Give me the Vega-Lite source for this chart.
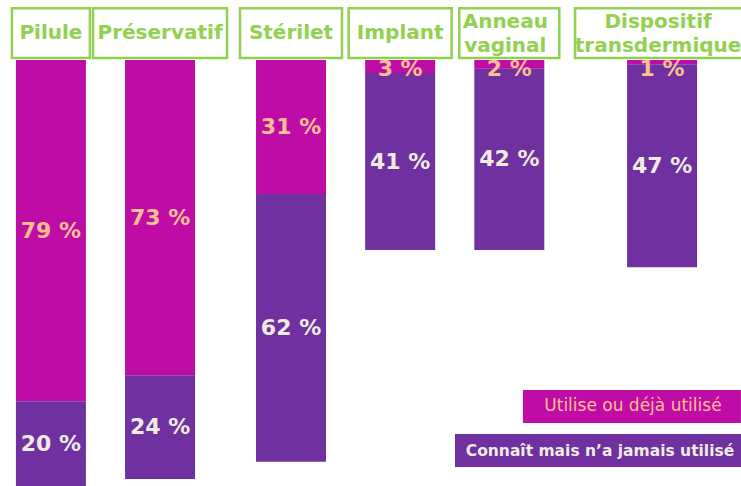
{
  "$schema": "https://vega.github.io/schema/vega-lite/v6.json",
  "width": 633,
  "height": 486,
  "autosize": "none",
  "padding": {"left": 40, "right": 68, "top": 0, "bottom": 0},
  "background": "white",
  "config": {"view": {"stroke": null}, "font": "DejaVu Sans"},
  "datasets": {
    "vals": [
      {"methode": "Pilule", "statut": "Utilise ou déjà utilisé", "pct": 79},
      {"methode": "Pilule", "statut": "Connaît mais n’a jamais utilisé", "pct": 20},
      {"methode": "Préservatif", "statut": "Utilise ou déjà utilisé", "pct": 73},
      {"methode": "Préservatif", "statut": "Connaît mais n’a jamais utilisé", "pct": 24},
      {"methode": "Stérilet", "statut": "Utilise ou déjà utilisé", "pct": 31},
      {"methode": "Stérilet", "statut": "Connaît mais n’a jamais utilisé", "pct": 62},
      {"methode": "Implant", "statut": "Utilise ou déjà utilisé", "pct": 3},
      {"methode": "Implant", "statut": "Connaît mais n’a jamais utilisé", "pct": 41},
      {"methode": "Anneau vaginal", "statut": "Utilise ou déjà utilisé", "pct": 2},
      {"methode": "Anneau vaginal", "statut": "Connaît mais n’a jamais utilisé", "pct": 42},
      {"methode": "Dispositif transdermique", "statut": "Utilise ou déjà utilisé", "pct": 1},
      {"methode": "Dispositif transdermique", "statut": "Connaît mais n’a jamais utilisé", "pct": 47}
    ],
    "methodes": [
      {"methode": "Pilule"},
      {"methode": "Préservatif"},
      {"methode": "Stérilet"},
      {"methode": "Implant"},
      {"methode": "Anneau vaginal"},
      {"methode": "Dispositif transdermique"}
    ]
  },
  "encoding": {
    "x": {
      "field": "methode",
      "type": "nominal",
      "axis": null,
      "scale": {
        "domain": ["Pilule", "s1", "s2", "s3", "s4", "Préservatif", "s5", "s6", "s7", "s8", "s9", "Stérilet", "s10", "s11", "s12", "s13", "Implant", "s14", "s15", "s16", "s17", "Anneau vaginal", "s18", "s19", "s20", "s21", "s22", "s23", "Dispositif transdermique"],
        "paddingInner": 0,
        "paddingOuter": 0
      }
    }
  },
  "layer": [
    {
      "data": {"name": "vals"},
      "transform": [
        {"stack": "pct", "groupby": ["methode"], "sort": [{"field": "statut", "order": "descending"}], "as": ["y0", "y1"]}
      ],
      "mark": {"type": "bar", "width": 70},
      "encoding": {
        "y": {"field": "y0", "type": "quantitative", "axis": null, "scale": {"domain": [-13.889, 98.611], "reverse": true, "nice": false, "zero": false}},
        "y2": {"field": "y1"},
        "color": {
          "field": "statut",
          "type": "nominal",
          "legend": null,
          "scale": {"domain": ["Utilise ou déjà utilisé", "Connaît mais n’a jamais utilisé"], "range": ["#C00CA6", "#7030A0"]}
        }
      }
    },
    {
      "data": {"name": "vals"},
      "transform": [
        {"stack": "pct", "groupby": ["methode"], "sort": [{"field": "statut", "order": "descending"}], "as": ["y0", "y1"]},
        {"filter": "datum.pct >= 5"},
        {"calculate": "(datum.y0 + datum.y1) / 2", "as": "mid"},
        {"calculate": "datum.pct + ' %'", "as": "label"}
      ],
      "mark": {"type": "text", "fontWeight": "bold", "fontSize": 22, "baseline": "middle", "align": "center"},
      "encoding": {
        "y": {"field": "mid", "type": "quantitative"},
        "text": {"field": "label"},
        "color": {"condition": {"test": "datum.statut == 'Utilise ou déjà utilisé'", "value": "#FAC090"}, "value": "#EEECE1"}
      }
    },
    {
      "data": {"name": "vals"},
      "transform": [
        {"stack": "pct", "groupby": ["methode"], "sort": [{"field": "statut", "order": "descending"}], "as": ["y0", "y1"]},
        {"filter": "datum.pct < 5"},
        {"calculate": "datum.pct + ' %'", "as": "label"}
      ],
      "mark": {"type": "text", "fontWeight": "bold", "fontSize": 22, "baseline": "middle", "align": "center", "dy": 9, "color": "#FAC090"},
      "encoding": {
        "y": {"field": "y0", "type": "quantitative"},
        "text": {"field": "label"}
      }
    },
    {
      "data": {"name": "methodes"},
      "mark": {"type": "bar", "fill": "white", "stroke": "#92D050", "strokeWidth": 2.5},
      "encoding": {
        "y": {"datum": -12.0},
        "y2": {"datum": -0.45},
        "size": {
          "field": "methode",
          "type": "nominal",
          "legend": null,
          "scale": {"type": "ordinal", "domain": ["Pilule", "Préservatif", "Stérilet", "Implant", "Anneau vaginal", "Dispositif transdermique"], "range": [78, 134, 102, 103, 100, 174]}
        }
      }
    },
    {
      "data": {"name": "methodes"},
      "transform": [{"filter": "indexof(datum.methode, ' ') < 0"}],
      "mark": {"type": "text", "fontWeight": "bold", "fontSize": 20, "color": "#92D050", "baseline": "middle", "align": "center"},
      "encoding": {
        "y": {"datum": -6.2},
        "text": {"field": "methode"}
      }
    },
    {
      "data": {"name": "methodes"},
      "transform": [{"filter": "indexof(datum.methode, ' ') >= 0"}],
      "mark": {"type": "text", "fontWeight": "bold", "fontSize": 20, "color": "#92D050", "lineBreak": " ", "lineHeight": 24, "baseline": "middle", "align": "center", "dx": -4},
      "encoding": {
        "y": {"datum": -8.9},
        "text": {"field": "methode"}
      }
    },
    {
      "data": {"values": [{"statut": "Utilise ou déjà utilisé"}]},
      "mark": {"type": "bar", "width": 218, "xOffset": 13.5},
      "encoding": {
        "x": {"datum": "s22"},
        "y": {"datum": 76.4},
        "y2": {"datum": 84.0},
        "color": {"field": "statut", "type": "nominal"}
      }
    },
    {
      "data": {"values": [{"statut": "Connaît mais n’a jamais utilisé"}]},
      "mark": {"type": "bar", "width": 286, "xOffset": 1.4},
      "encoding": {
        "x": {"datum": "s21"},
        "y": {"datum": 86.6},
        "y2": {"datum": 94.2},
        "color": {"field": "statut", "type": "nominal"}
      }
    },
    {
      "data": {"values": [{"statut": "Utilise ou déjà utilisé"}]},
      "mark": {"type": "text", "fontSize": 17, "color": "#FAC090", "dx": 14.5, "baseline": "middle", "align": "center"},
      "encoding": {
        "x": {"datum": "s22"},
        "y": {"datum": 80.2},
        "text": {"field": "statut"}
      }
    },
    {
      "data": {"values": [{"statut": "Connaît mais n’a jamais utilisé"}]},
      "mark": {"type": "text", "fontSize": 15.5, "fontWeight": "bold", "color": "#EEECE1", "dx": 3.4, "baseline": "middle", "align": "center"},
      "encoding": {
        "x": {"datum": "s21"},
        "y": {"datum": 90.4},
        "text": {"field": "statut"}
      }
    }
  ]
}
